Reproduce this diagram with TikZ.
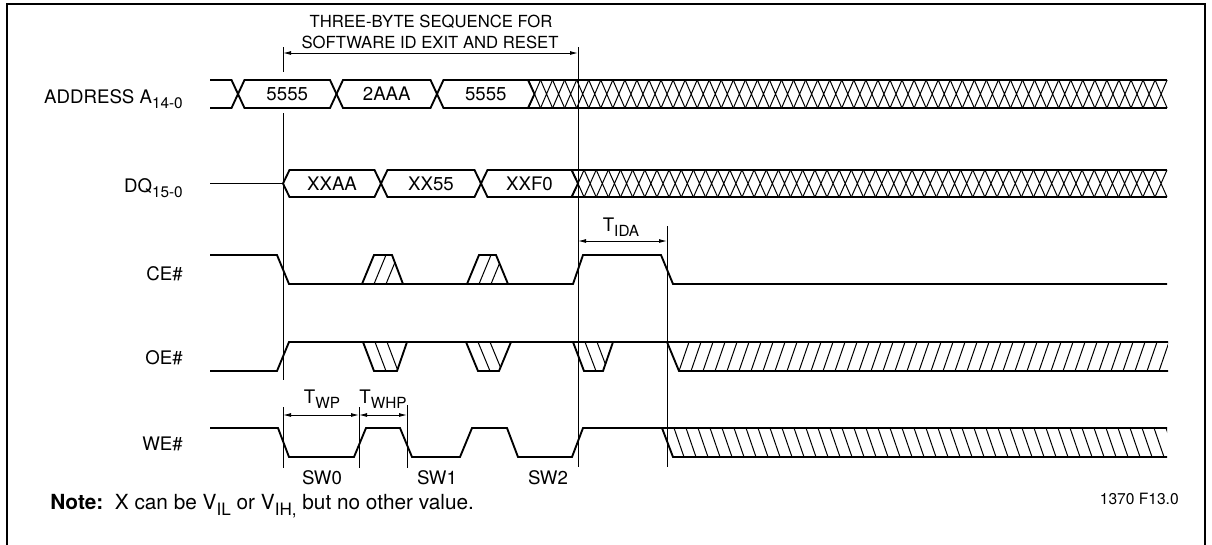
\documentclass[tikz,border=0pt]{standalone}
\usepackage{fontspec}
\setmainfont{TeX Gyre Heros}
\usetikzlibrary{arrows.meta}

\newcommand{\lowsub}[1]{\raisebox{-0.6ex}{\fontsize{11.5}{12}\selectfont #1}}
\newcommand{\notesub}[1]{\raisebox{-0.6ex}{\fontsize{12.8}{13}\selectfont #1}}

\tikzset{
  wave/.style={line width=1.4pt, line join=miter},
  guide/.style={line width=0.7pt},
  hatch/.style={line width=0.75pt},
  dim/.style={line width=0.7pt, {Latex[length=6pt,width=3pt]}-{Latex[length=6pt,width=3pt]}},
  lbl/.style={inner sep=0pt, font=\fontsize{14}{16}\selectfont},
  toptext/.style={inner sep=0pt, font=\fontsize{12.5}{14}\selectfont},
}

\begin{document}
\begin{tikzpicture}[x=0.75pt,y=0.75pt,yscale=-1,xscale=1]
\useasboundingbox (0,0) rectangle (1212,544);
\draw [line width=1.2pt] (7,4) rectangle (1205,550);

% sequence header
\node [toptext] (seqA) at (431,22) {THREE-BYTE SEQUENCE FOR};
\node [toptext] (seqB) at (430,42) {SOFTWARE ID EXIT AND RESET};
\coordinate (seqL) at (283,53);
\coordinate (seqR) at (578,53);
\draw [dim] (seqL) -- (seqR);

% guide lines
\draw [guide] (283,47) -- (283,72);
\draw [guide] (283,113) -- (283,380);
\draw [guide] (283,407) -- (283,468);
\draw [guide] (578,47) -- (578,467);
\draw [guide] (667,226) -- (667,467);
\draw [guide] (359,407) -- (359,468);
\draw [guide] (407,405) -- (407,468);

% signal names
\node [lbl, anchor=base east] (addrName) at (183,103) {ADDRESS A\lowsub{14-0}};
\node [lbl, anchor=base east] (dqName) at (183,192) {DQ\lowsub{15-0}};
\node [lbl, anchor=base east] (ceName) at (183,280) {CE\#};
\node [lbl, anchor=base east] (oeName) at (183,364) {OE\#};
\node [lbl, anchor=base east] (weName) at (183,450) {WE\#};

% address bus
\draw [wave] (210,80) -- (231.5,80) -- (238,94) -- (231.5,108) -- (210,108);
\foreach \xl/\xr/\val [count=\n] in {238/336.5/5555, 336.5/437/2AAA, 437/534.5/5555}{
  \draw [wave] (\xl,94) -- (\xl+6.5,80) -- (\xr-6.5,80) -- (\xr,94) -- (\xr-6.5,108) -- (\xl+6.5,108) -- cycle;
  \node [lbl] (addr\n) at ({(\xl+\xr)/2},94) {\val};
}
\draw [wave] (528,80) -- (1167,80) (528,108) -- (1167,108);
\foreach \k in {0,...,52}{
  \pgfmathsetmacro\cx{534.5+12.05*\k}
  \draw [hatch] (\cx-6,80) -- (\cx+6,108) (\cx-6,108) -- (\cx+6,80);
}

% data bus
\draw [wave] (210,183.5) -- (283,183.5);
\foreach \xl/\xr/\val [count=\n] in {283/381/XXAA, 381/481/XX55, 481/578/XXF0}{
  \draw [wave] (\xl,183.5) -- (\xl+6.5,170) -- (\xr-6.5,170) -- (\xr,183.5) -- (\xr-6.5,197) -- (\xl+6.5,197) -- cycle;
  \node [lbl] (dq\n) at ({(\xl+\xr)/2},183.5) {\val};
}
\draw [wave] (571.5,170) -- (1167,170) (571.5,197) -- (1167,197);
\foreach \k in {0,...,48}{
  \pgfmathsetmacro\cx{578+12.146*\k}
  \draw [hatch] (\cx-6,170) -- (\cx+6,197) (\cx-6,197) -- (\cx+6,170);
}

% CE#
\draw [wave] (210,255) -- (277,255) -- (289,284) -- (573,284) -- (583,255) -- (661,255) -- (673,284) -- (1167,284);
\foreach \pa/\pb/\pc/\pd in {362/374/392/403, 467/479/496/508}{
  \draw [wave] (\pa,284) -- (\pb,255) -- (\pc,255) -- (\pd,284);
  \begin{scope}
    \clip (\pa,284) -- (\pb,255) -- (\pc,255) -- (\pd,284) -- cycle;
    \foreach \k in {1,2} \draw [hatch] (\pa+12*\k,284) -- (\pb+12*\k,255);
  \end{scope}
}

% OE#
\draw [wave] (210,371) -- (277,371) -- (289,342) -- (1168,342);
\foreach \pa/\pb/\pc/\pd in {363/374/397/407, 466/478/499/511, 573/584/603/613}{
  \draw [wave] (\pa,342) -- (\pb,371) -- (\pc,371) -- (\pd,342);
  \begin{scope}
    \clip (\pa,342) -- (\pb,371) -- (\pc,371) -- (\pd,342) -- cycle;
    \foreach \k in {1,2} \draw [hatch] (\pa+12*\k,342) -- (\pb+12*\k,371);
  \end{scope}
}
\draw [wave] (667,342) -- (679,371) -- (1168,371);
\begin{scope}
  \clip (667,342) -- (679,371) -- (1168,371) -- (1168,342) -- cycle;
  \foreach \k in {0,...,41} \draw [hatch] (679+12*\k,371) -- (689+12*\k,342);
\end{scope}

% WE#
\draw [wave] (210,428) -- (278,428) -- (289,457) -- (354,457) -- (366,428) -- (400,428) -- (412,457) -- (460,457) -- (472,428) -- (507,428) -- (518,457) -- (572,457) -- (583,428) -- (1167,428);
\draw [wave] (662,428) -- (673,457) -- (1167,457);
\begin{scope}
  \clip (662,428) -- (673,457) -- (1167,457) -- (1167,428) -- cycle;
  \foreach \k in {1,...,42} \draw [hatch] (662+12*\k,428) -- (672+12*\k,457);
\end{scope}

% timing
\coordinate (idaL) at (578,241);
\coordinate (idaR) at (667,241);
\draw [dim] (idaL) -- (idaR);
\node [lbl, anchor=base] (tida) at (621,231) {T\lowsub{IDA}};
\coordinate (wpL) at (283,415);
\coordinate (wpR) at (359,415);
\coordinate (whpR) at (407,415);
\draw [dim] (wpL) -- (wpR);
\draw [dim] (wpR) -- (whpR);
\node [lbl, anchor=base] (twp) at (322,403) {T\lowsub{WP}};
\node [lbl, anchor=base] (twhp) at (383,403) {T\lowsub{WHP}};

% write cycles
\node [lbl] (sw0) at (322,478) {SW0};
\node [lbl] (sw1) at (437,478) {SW1};
\node [lbl] (sw2) at (548,478) {SW2};

% note
\node [inner sep=0pt, font=\fontsize{15.6}{18}\selectfont, anchor=base west] (note) at (50,509) {\textbf{Note:}\ \ X can be V\notesub{IL} or V\notesub{IH,} but no other value.};
\node [inner sep=0pt, font=\fontsize{11.7}{13}\selectfont, anchor=base east] (figid) at (1179,504) {1370 F13.0};

\end{tikzpicture}
\end{document}
